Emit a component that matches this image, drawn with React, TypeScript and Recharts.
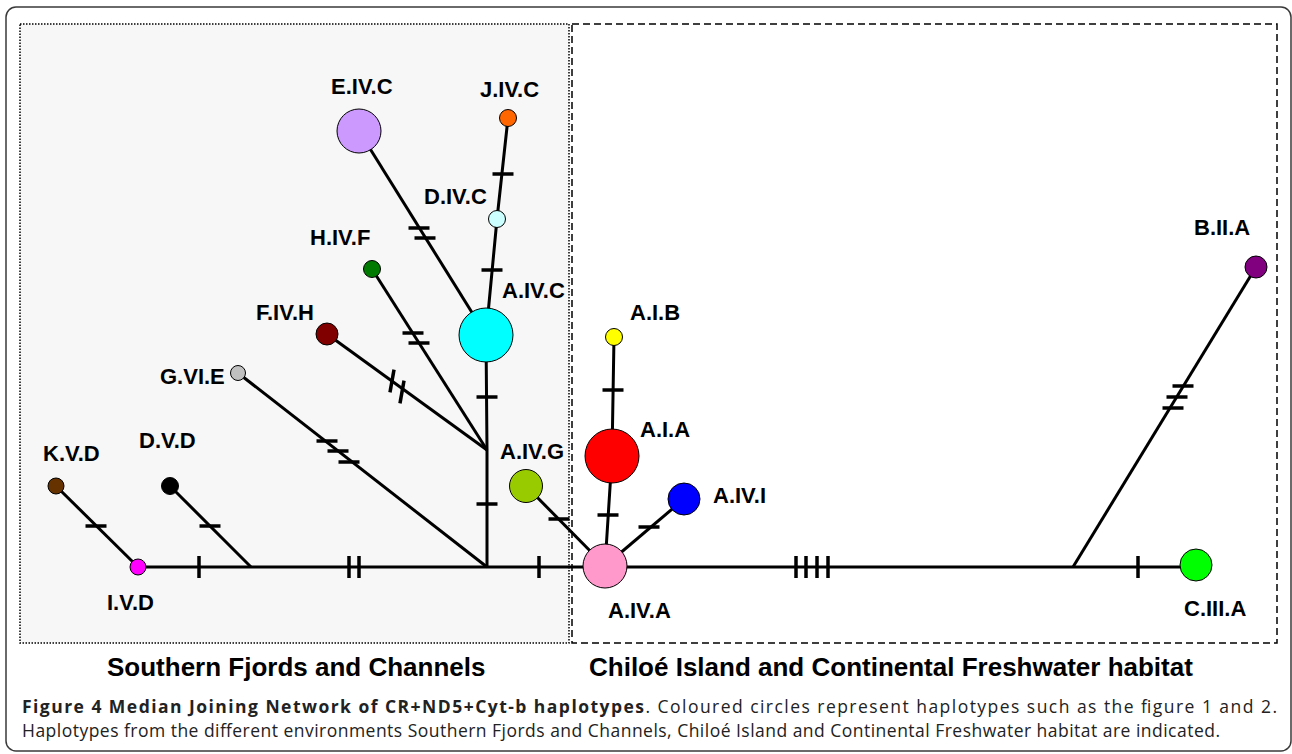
import { ScatterChart, Scatter, XAxis, YAxis, ReferenceArea } from 'recharts'

type Node = { name: string; x: number; y: number; r: number }

// haplotype nodes, coordinates in figure units, r = circle radius (frequency)
const NODES: Node[] = [
  { name: 'I.V.D', x: 138, y: 567, r: 8 },
  { name: 'K.V.D', x: 56, y: 486, r: 8 },
  { name: 'D.V.D', x: 170, y: 486, r: 8.5 },
  { name: 'G.VI.E', x: 238, y: 373, r: 7.5 },
  { name: 'F.IV.H', x: 327, y: 334, r: 11 },
  { name: 'H.IV.F', x: 372, y: 269, r: 8.5 },
  { name: 'E.IV.C', x: 359, y: 131, r: 22 },
  { name: 'J.IV.C', x: 508, y: 118, r: 8.5 },
  { name: 'D.IV.C', x: 497, y: 219, r: 8.5 },
  { name: 'A.IV.C', x: 486, y: 335, r: 27 },
  { name: 'A.IV.G', x: 526, y: 486, r: 16.5 },
  { name: 'A.I.B', x: 614, y: 337, r: 8.5 },
  { name: 'A.I.A', x: 612, y: 456, r: 27 },
  { name: 'A.IV.I', x: 684, y: 499, r: 16 },
  { name: 'A.IV.A', x: 605, y: 566, r: 22 },
  { name: 'B.II.A', x: 1256, y: 267, r: 11 },
  { name: 'C.III.A', x: 1196, y: 565, r: 16 },
]

// median vectors (unlabelled junctions)
const JUNCTIONS: Node[] = [
  { name: 'mv1', x: 251, y: 567, r: 0 },
  { name: 'mv2', x: 487, y: 567, r: 0 },
  { name: 'mv3', x: 487, y: 450, r: 0 },
  { name: 'mv4', x: 1073, y: 567, r: 0 },
  { name: 'end', x: 1196, y: 567, r: 0 },
]

const COLORS: Record<string, string> = {
  'I.V.D': '#ff00ff',
  'K.V.D': '#663300',
  'D.V.D': '#000000',
  'G.VI.E': '#c0c0c0',
  'F.IV.H': '#800000',
  'H.IV.F': '#007a00',
  'E.IV.C': '#cc99ff',
  'J.IV.C': '#ff6600',
  'D.IV.C': '#ccffff',
  'A.IV.C': '#00ffff',
  'A.IV.G': '#99cc00',
  'A.I.B': '#ffff00',
  'A.I.A': '#ff0000',
  'A.IV.I': '#0000ff',
  'A.IV.A': '#ff99cc',
  'B.II.A': '#800080',
  'C.III.A': '#00ff00',
}

const EDGES: string[][] = [
  ['I.V.D', 'end'],
  ['K.V.D', 'I.V.D'],
  ['D.V.D', 'mv1'],
  ['G.VI.E', 'mv2'],
  ['mv2', 'mv3', 'A.IV.C'],
  ['F.IV.H', 'mv3'],
  ['H.IV.F', 'mv3'],
  ['E.IV.C', 'A.IV.C'],
  ['A.IV.C', 'D.IV.C', 'J.IV.C'],
  ['A.IV.G', 'A.IV.A'],
  ['A.IV.A', 'A.I.A', 'A.I.B'],
  ['A.IV.A', 'A.IV.I'],
  ['mv4', 'B.II.A'],
]

// mutation marks
const H_TICKS = [
  { x: 96, y: 526 }, { x: 210, y: 526 },
  { x: 327, y: 441 }, { x: 338, y: 451 }, { x: 349, y: 462 },
  { x: 413, y: 333 }, { x: 419, y: 343 },
  { x: 419, y: 228 }, { x: 425, y: 238 },
  { x: 492, y: 270 }, { x: 503, y: 174 },
  { x: 487, y: 397 }, { x: 487, y: 504 },
  { x: 559, y: 519 }, { x: 608, y: 515 }, { x: 613, y: 390 }, { x: 649, y: 527 },
  { x: 1183, y: 386 }, { x: 1177, y: 397 }, { x: 1173, y: 408 },
]
const V_TICKS = [
  { x: 199, y: 567 }, { x: 349, y: 567 }, { x: 359, y: 567 }, { x: 539, y: 567 },
  { x: 796, y: 567 }, { x: 806, y: 567 }, { x: 817, y: 567 }, { x: 828, y: 567 },
  { x: 1138, y: 567 },
]
const SLANT_TICKS = [{ x: 392, y: 381 }, { x: 402, y: 392 }]

const LABELS = [
  { x: 331, y: 94, text: 'E.IV.C' },
  { x: 480, y: 97, text: 'J.IV.C' },
  { x: 424, y: 204, text: 'D.IV.C' },
  { x: 310, y: 245, text: 'H.IV.F' },
  { x: 502, y: 298, text: 'A.IV.C' },
  { x: 256, y: 320, text: 'F.IV.H' },
  { x: 160, y: 384, text: 'G.VI.E' },
  { x: 43, y: 461, text: 'K.V.D' },
  { x: 139, y: 448, text: 'D.V.D' },
  { x: 107, y: 610, text: 'I.V.D' },
  { x: 500, y: 459, text: 'A.IV.G' },
  { x: 608, y: 618, text: 'A.IV.A' },
  { x: 640, y: 437, text: 'A.I.A' },
  { x: 713, y: 503, text: 'A.IV.I' },
  { x: 1184, y: 616, text: 'C.III.A' },
  { x: 1194, y: 235, text: 'B.II.A' },
  { x: 630, y: 320, text: 'A.I.B' },
]

const REGIONS = [
  { x: 107, y: 676, text: 'Southern Fjords and Channels' },
  { x: 589, y: 676, text: 'Chiloé Island and Continental Freshwater habitat' },
]

const CAPTION = [
  { x: 22, y: 713, bold: 'Figure 4 Median Joining Network of CR+ND5+Cyt-b haplotypes', text: '. Coloured circles represent haplotypes such as the figure 1 and 2.', len: 1255 },
  { x: 22, y: 737, bold: '', text: 'Haplotypes from the different environments Southern Fjords and Channels, Chiloé Island and Continental Freshwater habitat are indicated.', len: 1198 },
]

const W = 1292
const H = 754
const ALL = [...NODES, ...JUNCTIONS]
const find = (n: string) => ALL.find((d) => d.name === n)!

const fEdge = [find('F.IV.H'), find('mv3')]

const none = () => <g />

export default function App() {
  const tickShape = (dx: number, dy: number) => (p: any) => (
    <line x1={p.cx - dx} y1={p.cy - dy} x2={p.cx + dx} y2={p.cy + dy} stroke="#000" strokeWidth={3.5} />
  )
  // slanted marks on the F.IV.H branch
  const ang = Math.atan2(fEdge[1].y - fEdge[0].y, fEdge[1].x - fEdge[0].x) - Math.PI / 2 - 0.45
  return (
    <div style={{ position: 'absolute', left: 0, top: 0, background: '#fff' }}>
      <ScatterChart width={W} height={H} margin={{ top: 0, right: 0, bottom: 0, left: 0 }}>
        <XAxis type="number" dataKey="x" domain={[0, W]} hide />
        <YAxis type="number" dataKey="y" domain={[0, H]} reversed hide />
        <ReferenceArea
          x1={6} x2={1291} y1={7} y2={751}
          shape={(p: any) => (
            <rect x={p.x} y={p.y} width={p.width} height={p.height} rx={10} fill="#fff" stroke="#3a3a3a" strokeWidth={1.5} />
          )}
        />
        <ReferenceArea x1={20} x2={569} y1={24} y2={643} fill="#f7f7f7" fillOpacity={1} stroke="#000" strokeWidth={1.5} strokeDasharray="1.5 1.5" />
        <ReferenceArea x1={572} x2={1277} y1={24} y2={643} fill="none" stroke="#000" strokeWidth={1.5} strokeDasharray="7 4" />
        {EDGES.map((e, i) => (
          <Scatter
            key={`edge-${i}`}
            data={e.map(find)}
            line={{ stroke: '#000', strokeWidth: 3 }}
            shape={none}
            isAnimationActive={false}
          />
        ))}
        <Scatter data={H_TICKS} shape={tickShape(10.5, 0)} isAnimationActive={false} />
        <Scatter data={V_TICKS} shape={tickShape(0, 11)} isAnimationActive={false} />
        <Scatter data={SLANT_TICKS} shape={tickShape(11.5 * Math.cos(ang), 11.5 * Math.sin(ang))} isAnimationActive={false} />
        <Scatter
          data={NODES}
          isAnimationActive={false}
          shape={(p: any) => (
            <circle cx={p.cx} cy={p.cy} r={p.payload.r} fill={COLORS[p.payload.name]} stroke="#000" strokeWidth={1} />
          )}
        />
        <Scatter
          data={LABELS}
          isAnimationActive={false}
          shape={(p: any) => (
            <text x={p.cx} y={p.cy} fontFamily="'Liberation Sans', Arial, sans-serif" fontWeight="bold" fontSize={22} fill="#000">
              {p.payload.text}
            </text>
          )}
        />
        <Scatter
          data={REGIONS}
          isAnimationActive={false}
          shape={(p: any) => (
            <text x={p.cx} y={p.cy} fontFamily="'Liberation Sans', Arial, sans-serif" fontWeight="bold" fontSize={26} fill="#000">
              {p.payload.text}
            </text>
          )}
        />
        <Scatter
          data={CAPTION}
          isAnimationActive={false}
          shape={(p: any) => (
            <text
              x={p.cx}
              y={p.cy}
              fontFamily="'Open Sans', sans-serif"
              fontSize={17.5}
              fill="#222"
              textLength={p.payload.len}
              lengthAdjust="spacing"
            >
              {p.payload.bold && <tspan fontWeight="bold">{p.payload.bold}</tspan>}
              <tspan>{p.payload.text}</tspan>
            </text>
          )}
        />
      </ScatterChart>
    </div>
  )
}
